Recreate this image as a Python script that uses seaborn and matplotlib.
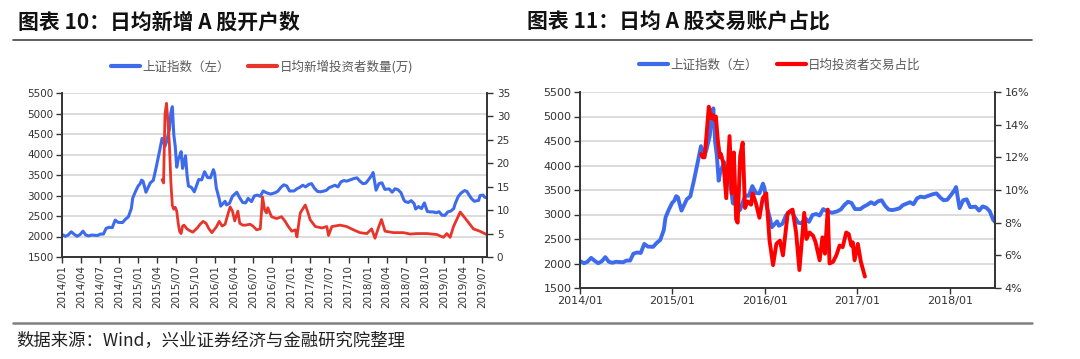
import numpy as np
import pandas as pd
import matplotlib
matplotlib.use("Agg")
import matplotlib.pyplot as plt
import matplotlib.dates as mdates
from matplotlib.lines import Line2D
from matplotlib.ticker import FuncFormatter
import seaborn as sns

# 上证指数 (both charts share this series)
sh_dates = [
    "2014-01-03", "2014-01-17", "2014-01-30", "2014-02-14", "2014-02-28", "2014-03-14", "2014-03-28",
    "2014-04-11", "2014-04-25", "2014-05-09", "2014-05-23", "2014-06-06", "2014-06-20", "2014-07-04",
    "2014-07-18", "2014-07-31", "2014-08-15", "2014-08-29", "2014-09-12", "2014-09-26", "2014-10-17",
    "2014-10-31", "2014-11-14", "2014-11-28", "2014-12-05", "2014-12-19", "2014-12-31",
    "2015-01-09", "2015-01-16", "2015-01-23", "2015-01-30", "2015-02-06", "2015-02-27", "2015-03-13",
    "2015-03-27", "2015-04-10", "2015-04-24", "2015-05-08", "2015-05-15", "2015-05-29", "2015-06-05",
    "2015-06-12", "2015-06-19", "2015-06-26", "2015-07-03", "2015-07-10", "2015-07-17", "2015-07-24",
    "2015-07-31", "2015-08-14", "2015-08-21", "2015-08-28", "2015-09-11", "2015-09-25", "2015-10-16",
    "2015-10-30", "2015-11-13", "2015-11-27", "2015-12-11", "2015-12-25", "2015-12-31",
    "2016-01-08", "2016-01-22", "2016-01-29", "2016-02-19", "2016-02-26", "2016-03-11", "2016-03-25",
    "2016-04-15", "2016-04-29", "2016-05-13", "2016-05-27", "2016-06-08", "2016-06-24", "2016-07-08",
    "2016-07-22", "2016-08-05", "2016-08-19", "2016-09-02", "2016-09-23", "2016-10-14", "2016-10-28",
    "2016-11-11", "2016-11-25", "2016-12-09", "2016-12-23",
    "2017-01-13", "2017-01-26", "2017-02-10", "2017-02-24", "2017-03-10", "2017-03-24", "2017-04-07",
    "2017-04-21", "2017-05-05", "2017-05-19", "2017-06-02", "2017-06-16", "2017-06-30", "2017-07-14",
    "2017-07-28", "2017-08-11", "2017-08-25", "2017-09-08", "2017-09-22", "2017-10-13", "2017-10-27",
    "2017-11-10", "2017-11-24", "2017-12-08", "2017-12-22",
    "2018-01-05", "2018-01-19", "2018-01-26", "2018-02-09", "2018-02-23", "2018-03-09", "2018-03-23",
    "2018-04-13", "2018-04-27", "2018-05-11", "2018-05-25", "2018-06-08", "2018-06-22", "2018-06-29",
    "2018-07-13", "2018-07-27", "2018-08-10", "2018-08-17", "2018-08-31", "2018-09-14", "2018-09-28",
    "2018-10-12", "2018-10-26", "2018-11-09", "2018-11-23", "2018-12-07", "2018-12-21",
    "2019-01-04", "2019-01-18", "2019-02-01", "2019-02-15", "2019-02-22", "2019-03-08", "2019-03-22",
    "2019-04-08", "2019-04-19", "2019-04-26", "2019-05-10", "2019-05-24", "2019-06-14", "2019-06-21",
    "2019-07-05", "2019-07-12", "2019-07-24",
]
sh_close = [
    2045, 2005, 2035, 2115, 2055, 2005, 2045,
    2130, 2035, 2015, 2035, 2030, 2025, 2060,
    2060, 2200, 2225, 2215, 2400, 2345, 2340,
    2420, 2480, 2680, 2940, 3110, 3235,
    3285, 3375, 3350, 3210, 3080, 3310, 3370,
    3690, 4035, 4395, 4205, 4310, 4610, 5020,
    5166, 4480, 4190, 3690, 3880, 3960, 4070,
    3660, 3970, 3510, 3230, 3200, 3090, 3390,
    3380, 3580, 3440, 3430, 3630, 3540,
    3185, 2915, 2740, 2860, 2770, 2810, 2980,
    3080, 2940, 2830, 2820, 2930, 2850, 2990,
    3010, 2980, 3110, 3070, 3035, 3065, 3105,
    3195, 3260, 3235, 3110,
    3110, 3160, 3200, 3250, 3210, 3270, 3290,
    3175, 3100, 3090, 3105, 3125, 3190, 3220,
    3250, 3210, 3330, 3365, 3350, 3390, 3415,
    3430, 3350, 3290, 3300,
    3390, 3490, 3560, 3130, 3290, 3310, 3150,
    3160, 3080, 3165, 3140, 3070, 2890, 2850,
    2830, 2875, 2800, 2670, 2730, 2680, 2820,
    2610, 2600, 2600, 2580, 2605, 2520,
    2515, 2600, 2620, 2680, 2800, 2970, 3060,
    3120, 3100, 3040, 2930, 2860, 2880, 3000,
    3010, 2960, 2940,
]

# 日均新增投资者数量(万)
new_dates = [
    "2015-04-24", "2015-05-01", "2015-05-08", "2015-05-15", "2015-05-22", "2015-05-29", "2015-06-05",
    "2015-06-12", "2015-06-19", "2015-06-26", "2015-07-03", "2015-07-10", "2015-07-17", "2015-07-24",
    "2015-07-31", "2015-08-07", "2015-08-21", "2015-09-04", "2015-09-18", "2015-10-09", "2015-10-23",
    "2015-11-06", "2015-11-20", "2015-12-04", "2015-12-18",
    "2016-01-08", "2016-01-22", "2016-02-05", "2016-02-19", "2016-03-04", "2016-03-14", "2016-03-25",
    "2016-04-05", "2016-04-20", "2016-04-29", "2016-05-13", "2016-05-27", "2016-06-17", "2016-07-01",
    "2016-07-19", "2016-08-05", "2016-08-16", "2016-08-26", "2016-09-04", "2016-09-10", "2016-09-28",
    "2016-10-22", "2016-11-15", "2016-12-02", "2016-12-17",
    "2017-01-03", "2017-01-20", "2017-01-27", "2017-02-12", "2017-03-08", "2017-03-17", "2017-04-01",
    "2017-04-25", "2017-05-26", "2017-06-19", "2017-06-27", "2017-07-13", "2017-08-21", "2017-09-22",
    "2017-10-24", "2017-11-24", "2017-12-27",
    "2018-01-19", "2018-02-04", "2018-02-20", "2018-03-07", "2018-03-24", "2018-05-04", "2018-06-20",
    "2018-07-22", "2018-08-24", "2018-10-10", "2018-11-26", "2018-12-28",
    "2019-01-13", "2019-01-29", "2019-02-14", "2019-03-18", "2019-04-19", "2019-05-20", "2019-06-20",
    "2019-07-22",
]
new_investors = [
    16.5, 15.8, 30.5, 32.8, 29.0, 24.0, 16.0,
    11.0, 10.2, 10.6, 9.8, 7.2, 5.4, 5.0,
    6.6, 6.8, 6.0, 5.6, 5.3, 6.2, 7.0,
    7.6, 7.2, 6.0, 5.2,
    6.4, 7.6, 6.6, 7.0, 9.2, 10.7, 9.8,
    7.7, 9.8, 7.2, 6.8, 6.8, 7.0, 6.6,
    5.8, 6.0, 12.8, 10.0, 9.4, 10.5, 8.6,
    8.2, 8.6, 7.6, 6.5,
    5.5, 5.8, 4.3, 9.4, 11.1, 10.0, 7.9,
    6.5, 6.2, 6.5, 4.6, 6.5, 6.8, 6.5,
    5.8, 5.2, 5.0,
    6.0, 4.0, 6.2, 8.0, 5.5, 5.2, 5.2,
    4.9, 5.0, 5.0, 4.8, 4.2,
    5.0, 4.2, 6.5, 9.6, 7.8, 6.0, 5.5,
    4.8,
]

# 日均投资者交易占比 (%)
ratio_dates = [
    "2015-04-24", "2015-05-01", "2015-05-08", "2015-05-15", "2015-05-25", "2015-06-03", "2015-06-10",
    "2015-06-16", "2015-06-22", "2015-06-30", "2015-07-08", "2015-07-12", "2015-07-22", "2015-08-02",
    "2015-08-15", "2015-08-24", "2015-09-01", "2015-09-10", "2015-09-16", "2015-09-26", "2015-10-06",
    "2015-10-15", "2015-10-26", "2015-11-08", "2015-11-14", "2015-11-27", "2015-12-11", "2015-12-24",
    "2016-01-07", "2016-01-20", "2016-02-03", "2016-02-16", "2016-03-01", "2016-03-13", "2016-04-01",
    "2016-04-20", "2016-05-04", "2016-05-17", "2016-06-05", "2016-06-14", "2016-06-26", "2016-07-10",
    "2016-07-20", "2016-08-05", "2016-08-16", "2016-08-26", "2016-09-06", "2016-09-13", "2016-09-27",
    "2016-10-10", "2016-10-23", "2016-11-04", "2016-11-18", "2016-11-28", "2016-12-08", "2016-12-14",
    "2016-12-21", "2017-01-03", "2017-01-15", "2017-01-31",
]
ratio_values = [
    12.2, 12.0, 12.0, 13.2, 15.1, 14.4, 14.6,
    14.3, 14.5, 13.0, 12.0, 12.2, 11.6, 9.5,
    13.3, 9.8, 12.3, 8.2, 8.0, 12.1, 12.9,
    8.9, 9.3, 9.1, 9.8, 9.2, 8.3, 9.5,
    9.8, 6.9, 5.4, 6.7, 6.9, 6.0, 8.6,
    8.8, 7.4, 5.1, 8.6, 7.0, 7.4, 7.2,
    6.8, 5.7, 7.1, 6.1, 8.8, 5.5, 5.6,
    6.0, 6.6, 6.5, 7.4, 7.3, 6.6, 6.8,
    5.7, 6.7, 5.6, 4.7,
]

BLUE = "#3E6BEB"
RED_L = "#E8352C"
RED_R = "#FF0000"
DARK = "#333333"
CJK = ["Noto Sans CJK SC", "DejaVu Sans"]

sns.set_theme(style="white")
plt.rcParams["font.family"] = ["DejaVu Sans", "Noto Sans CJK SC"]

idx = pd.DataFrame({"date": pd.to_datetime(sh_dates), "close": sh_close})
newdf = pd.DataFrame({"date": pd.to_datetime(new_dates), "val": new_investors})
ratiodf = pd.DataFrame({"date": pd.to_datetime(ratio_dates), "val": ratio_values})

W, H = 1080, 359
fig = plt.figure(figsize=(W / 100, H / 100), dpi=100)


def px(x0, y0, x1, y1):
    return [x0 / W, 1 - y1 / H, (x1 - x0) / W, (y1 - y0) / H]


def style_axes(ax, axr, size):
    for a in (ax, axr):
        a.spines["top"].set_visible(False)
        for s in ("left", "right", "bottom"):
            a.spines[s].set_color(DARK)
            a.spines[s].set_linewidth(1.2)
        a.set_xlabel("")
        a.set_ylabel("")
    ax.yaxis.grid(True, color="#D9D9D9", lw=1.3)
    ax.xaxis.grid(False)
    ax.set_axisbelow(True)
    ax.tick_params(axis="y", left=True, direction="out", length=4, width=1, color=DARK,
                   labelsize=size, labelcolor=DARK, pad=2)
    ax.tick_params(axis="x", bottom=True, direction="out", length=4, width=1, color=DARK,
                   labelsize=size, labelcolor=DARK, pad=2)
    axr.tick_params(axis="y", right=True, direction="out", length=4, width=1, color=DARK,
                    labelsize=size, labelcolor=DARK, pad=3)


# ---- left chart: 日均新增A股开户数
ax1 = fig.add_axes(px(62, 93, 487, 257))
sns.lineplot(data=idx, x="date", y="close", ax=ax1, color=BLUE, lw=2.2)
ax1r = ax1.twinx()
sns.lineplot(data=newdf, x="date", y="val", ax=ax1r, color=RED_L, lw=2.0)
ax1.set_ylim(1500, 5500)
ax1.set_yticks(np.arange(1500, 5501, 500))
ax1r.set_ylim(0, 35)
ax1r.set_yticks(np.arange(0, 36, 5))
ax1.set_xlim(pd.Timestamp("2014-01-01"), pd.Timestamp("2019-07-24"))
ax1.xaxis.set_major_locator(mdates.MonthLocator(bymonth=[1, 4, 7, 10]))
ax1.xaxis.set_major_formatter(mdates.DateFormatter("%Y/%m"))
style_axes(ax1, ax1r, 7.5)
plt.setp(ax1.get_xticklabels(), rotation=90)

# ---- right chart: 日均A股交易账户占比
ax2 = fig.add_axes(px(580, 92, 995, 288))
idx2 = idx[idx["date"] <= "2018-06-29"]
sns.lineplot(data=idx2, x="date", y="close", ax=ax2, color=BLUE, lw=2.8)
ax2r = ax2.twinx()
sns.lineplot(data=ratiodf, x="date", y="val", ax=ax2r, color=RED_R, lw=2.8)
ax2.set_ylim(1500, 5500)
ax2.set_yticks(np.arange(1500, 5501, 500))
ax2r.set_ylim(4, 16)
ax2r.set_yticks(np.arange(4, 17, 2))
ax2r.yaxis.set_major_formatter(FuncFormatter(lambda v, p: f"{v:.0f}%"))
ax2.set_xlim(pd.Timestamp("2014-01-01"), pd.Timestamp("2018-06-29"))
ax2.xaxis.set_major_locator(mdates.YearLocator())
ax2.xaxis.set_major_formatter(mdates.DateFormatter("%Y/%m"))
style_axes(ax2, ax2r, 8)

# ---- legends
h1 = [Line2D([], [], color=BLUE, lw=3), Line2D([], [], color=RED_L, lw=3)]
fig.legend(h1, ["上证指数（左）", "日均新增投资者数量(万)"], loc="center",
           bbox_to_anchor=(262 / W, 1 - 67 / H), ncol=2, frameon=False,
           handlelength=2.3, handletextpad=0.2, columnspacing=1.5,
           labelcolor="#595959", prop={"family": CJK, "size": 9})
h2 = [Line2D([], [], color=BLUE, lw=3), Line2D([], [], color=RED_R, lw=3)]
fig.legend(h2, ["上证指数（左）", "日均投资者交易占比"], loc="center",
           bbox_to_anchor=(780 / W, 1 - 65 / H), ncol=2, frameon=False,
           handlelength=2.3, handletextpad=0.2, columnspacing=1.5,
           labelcolor="#595959", prop={"family": CJK, "size": 9})

# ---- titles, rules, source
fig.text(18 / W, 1 - 22 / H, "图表 10：日均新增 A 股开户数", fontsize=15, weight="bold",
         va="center", ha="left", family=CJK, color="#111111")
fig.text(527 / W, 1 - 22 / H, "图表 11：日均 A 股交易账户占比", fontsize=15, weight="bold",
         va="center", ha="left", family=CJK, color="#111111")
fig.add_artist(Line2D([13 / W, 1032 / W], [1 - 40 / H] * 2, color="#444444", lw=1.2))
fig.add_artist(Line2D([13 / W, 1032 / W], [1 - 323 / H] * 2, color="#808080", lw=1.8))
fig.text(16 / W, 1 - 340 / H, "数据来源：Wind，兴业证券经济与金融研究院整理", fontsize=12.5,
         va="center", ha="left", family=CJK, color="#222222")

fig.savefig("out.png", dpi=100)
